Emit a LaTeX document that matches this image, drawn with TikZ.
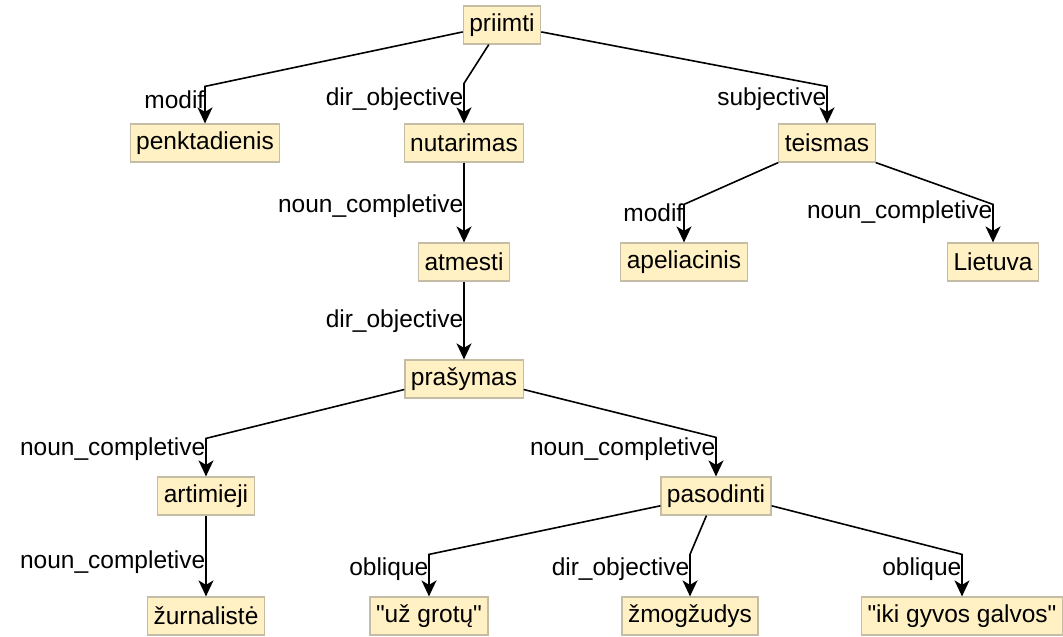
\documentclass[tikz,border=0pt]{standalone}
\usepackage{fontspec}
% plain family without TeX ligature mapping, so " stays a straight quote
\newfontfamily\wordfont{Liberation Sans}
\usetikzlibrary{arrows.meta}
\definecolor{wordfill}{RGB}{255,241,196}
\definecolor{wordline}{RGB}{196,188,164}
\tikzset{
  word/.style={draw=wordline, fill=wordfill, line width=1.2pt,
    minimum height=38pt, inner xsep=6pt, inner ysep=2pt,
    font=\wordfont\fontsize{24.5}{28}\selectfont},
  dep/.style={draw=black, line width=1.6pt,
    -{Stealth[length=16pt,width=15pt,inset=4.5pt]}},
  rel/.style={anchor=east, inner xsep=0.5pt, inner ysep=0pt,
    font=\wordfont\fontsize{24.5}{28}\selectfont},
}
\begin{document}
\begin{tikzpicture}[x=1pt,y=1pt]
\useasboundingbox (0,0) rectangle (1063,637);

% words, one row per tree level
\node[word] (priimti) at (502,612) {priimti};

\node[word] (penkt) at (205,494) {penktadienis};
\node[word] (nutar) at (464,494) {nutarimas};
\node[word] (teism) at (827,494) {teismas};

\node[word] (atmes) at (464,375) {atmesti};
\node[word] (apel)  at (684,375) {apeliacinis};
\node[word] (liet)  at (993,375) {Lietuva};

\node[word] (prasym) at (464,258) {prašymas};

\node[word] (artim) at (206,141) {artimieji};
\node[word] (pasod) at (716,141) {pasodinti};

\node[word] (zurn)  at (206,21) {žurnalistė};
\node[word] (uzgr)  at (429,21) {"už grotų"};
\node[word] (zmog)  at (690,21) {žmogžudys};
\node[word] (iki)   at (962,21) {"iki gyvos galvos"};

% dependencies: slanted run to a point above the dependent, then straight down
\draw[dep] (priimti.190) -- ([yshift=37pt]penkt.north) -- (penkt.north);
\draw[dep] (priimti.236) -- ([yshift=40pt]nutar.north) -- (nutar.north);
\draw[dep] (priimti.-10) -- ([yshift=37pt]teism.north) -- (teism.north);

\draw[dep] (nutar.south) -- (atmes.north);
\draw[dep] (teism.south west) -- ([yshift=38pt]apel.north) -- (apel.north);
\draw[dep] (teism.south east) -- ([yshift=38pt]liet.north) -- (liet.north);

\draw[dep] (atmes.south) -- (prasym.north);

\draw[dep] (prasym.190) -- ([yshift=38pt]artim.north) -- (artim.north);
\draw[dep] (prasym.-10) -- ([yshift=39pt]pasod.north) -- (pasod.north);

\draw[dep] (artim.south) -- (zurn.north);
\draw[dep] (pasod.190) -- ([yshift=42pt]uzgr.north) -- (uzgr.north);
\draw[dep] (pasod.244) -- ([yshift=42pt]zmog.north) -- (zmog.north);
\draw[dep] (pasod.-10) -- ([yshift=42pt]iki.north) -- (iki.north);

% relation labels beside the vertical parts
\node[rel] (l1)  at ([yshift=24pt]penkt.north) {modif};
\node[rel] (l2)  at ([yshift=24pt]nutar.north) {dir\_objective};
\node[rel] (l3)  at ([yshift=24pt]teism.north) {subjective};
\node[rel] (l4)  at ([yshift=36pt]atmes.north) {noun\_completive};
\node[rel] (l5)  at ([yshift=30pt]apel.north) {modif};
\node[rel] (l6)  at ([yshift=30pt]liet.north) {noun\_completive};
\node[rel] (l7)  at ([yshift=38pt]prasym.north) {dir\_objective};
\node[rel] (l8)  at ([yshift=27pt]artim.north) {noun\_completive};
\node[rel] (l9)  at ([yshift=27pt]pasod.north) {noun\_completive};
\node[rel] (l10) at ([yshift=34pt]zurn.north) {noun\_completive};
\node[rel] (l11) at ([yshift=27pt]uzgr.north) {oblique};
\node[rel] (l12) at ([yshift=27pt]zmog.north) {dir\_objective};
\node[rel] (l13) at ([yshift=27pt]iki.north) {oblique};
\end{tikzpicture}
\end{document}
